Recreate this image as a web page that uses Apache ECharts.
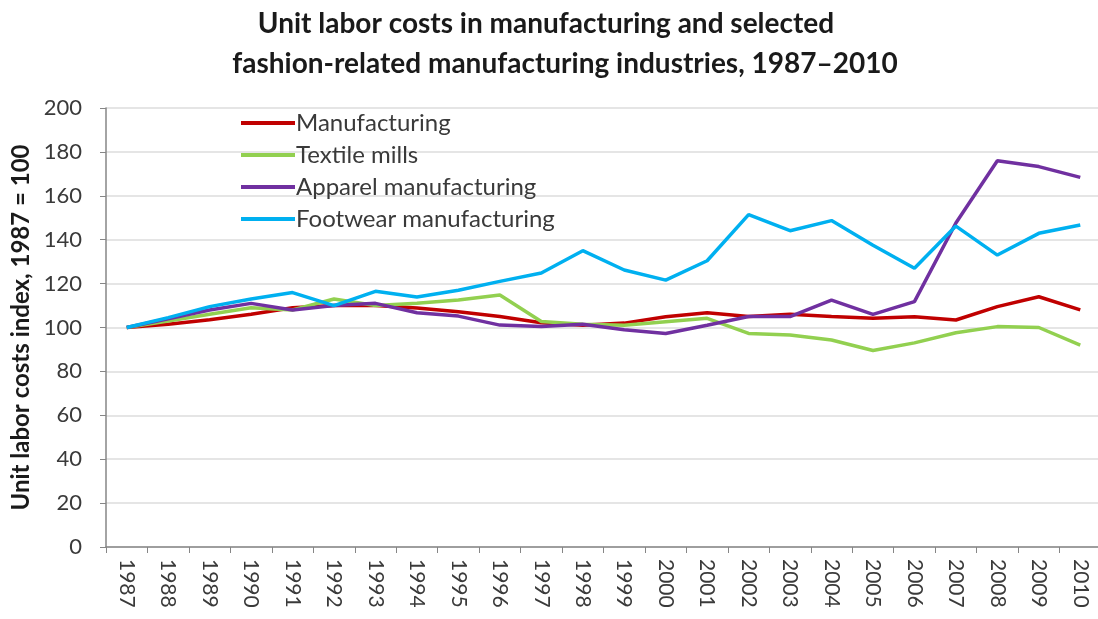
<!DOCTYPE html>
<html>
<head>
<meta charset="utf-8">
<script src="https://cdn.jsdelivr.net/npm/echarts@6/dist/echarts.min.js"></script>
<style>
  html, body { margin: 0; padding: 0; background: #ffffff; }
  #chart { width: 1098px; height: 619px; }
</style>
</head>
<body>
<div id="chart"></div>
<script>
// Years on the category axis
const years = ['1987','1988','1989','1990','1991','1992','1993','1994','1995','1996','1997','1998',
               '1999','2000','2001','2002','2003','2004','2005','2006','2007','2008','2009','2010'];

// Unit labor cost indexes, 1987 = 100
const manufacturing = [100, 101.5, 103.5, 106, 109, 110, 110, 108.9, 107.2, 105, 102.2, 101,
                       102, 104.9, 106.7, 105, 106, 105, 104.2, 104.9, 103.4, 109.5, 114, 108];
const textileMills = [100, 103, 106, 109, 108, 113, 110, 111, 112.5, 114.8, 102.7, 101.5,
                      101, 102.6, 104.2, 97.3, 96.6, 94.3, 89.5, 93, 97.6, 100.4, 100, 92];
const apparel = [100, 104, 108, 111, 108, 110, 111, 106.7, 105.2, 101.1, 100.4, 101.5,
                 99, 97.3, 101, 105, 105, 112.5, 106, 111.8, 147.6, 176, 173.3, 168.4];
const footwear = [100, 104.5, 109.5, 113, 115.9, 110, 116.5, 113.9, 117, 121, 124.8, 135,
                  126.2, 121.6, 130.4, 151.4, 144.1, 148.7, 137.5, 127, 146.2, 133, 142.9, 146.7];

const seriesNames = ['Manufacturing', 'Textile mills', 'Apparel manufacturing', 'Footwear manufacturing'];
const seriesColors = ['#C00000', '#92D050', '#7030A0', '#00B0F0'];
const seriesData = [manufacturing, textileMills, apparel, footwear];

// Two-line chart title
const titleLines = ['Unit labor costs in manufacturing and selected',
                    'fashion-related manufacturing industries, 1987\u20132010'];

const font = 'Lato, "Open Sans", sans-serif';

const chart = echarts.init(document.getElementById('chart'), null, { renderer: 'canvas' });

const titleStyle = {
  fontFamily: font,
  fontWeight: 'bold',
  fontSize: 28,
  color: '#1a1a1a'
};

chart.setOption({
  backgroundColor: '#ffffff',
  animation: false,
  title: [
    { text: titleLines[0], left: 541, textAlign: 'center', top: 5, textStyle: titleStyle },
    { text: titleLines[1], left: 560, textAlign: 'center', top: 45, textStyle: titleStyle }
  ],
  legend: {
    orient: 'vertical',
    left: 236,
    top: 105,
    itemWidth: 54,
    itemHeight: 26,
    itemGap: 6,
    icon: 'path://M0,0 L54,0 L54,4 L0,4 Z',
    data: seriesNames,
    textStyle: {
      fontFamily: font,
      fontSize: 24,
      lineHeight: 26,
      color: '#3a3a3a',
      padding: [0, 0, 0, -4]
    }
  },
  grid: {
    left: 106,
    top: 108,
    width: 995,
    height: 439,
    containLabel: false,
    outerBoundsMode: 'none'
  },
  xAxis: {
    type: 'category',
    data: years,
    boundaryGap: true,
    axisLine: { lineStyle: { color: '#868686', width: 1.5 } },
    axisTick: { show: true, alignWithLabel: false, length: 6, lineStyle: { color: '#868686' } },
    axisLabel: {
      rotate: -90,
      margin: 12,
      interval: 0,
      fontFamily: font,
      fontSize: 21,
      color: '#3a3a3a'
    },
    splitLine: { show: false }
  },
  yAxis: {
    type: 'value',
    min: 0,
    max: 200,
    interval: 20,
    name: 'Unit labor costs index, 1987 = 100',
    nameLocation: 'middle',
    nameGap: 72,
    nameTextStyle: {
      fontFamily: font,
      fontWeight: 'bold',
      fontSize: 24,
      color: '#1a1a1a'
    },
    axisLine: { show: true, lineStyle: { color: '#868686', width: 1.5 } },
    axisTick: { show: true, length: 6, inside: false, lineStyle: { color: '#868686' } },
    axisLabel: {
      margin: 24,
      fontFamily: font,
      fontSize: 22,
      color: '#3a3a3a'
    },
    splitLine: { show: true, lineStyle: { color: '#DCDCDC', width: 1.5 } }
  },
  series: seriesNames.map((name, i) => ({
    name: name,
    type: 'line',
    data: seriesData[i],
    symbol: 'none',
    smooth: false,
    color: seriesColors[i],
    lineStyle: { width: 3.5, color: seriesColors[i] }
  }))
});
</script>
</body>
</html>
